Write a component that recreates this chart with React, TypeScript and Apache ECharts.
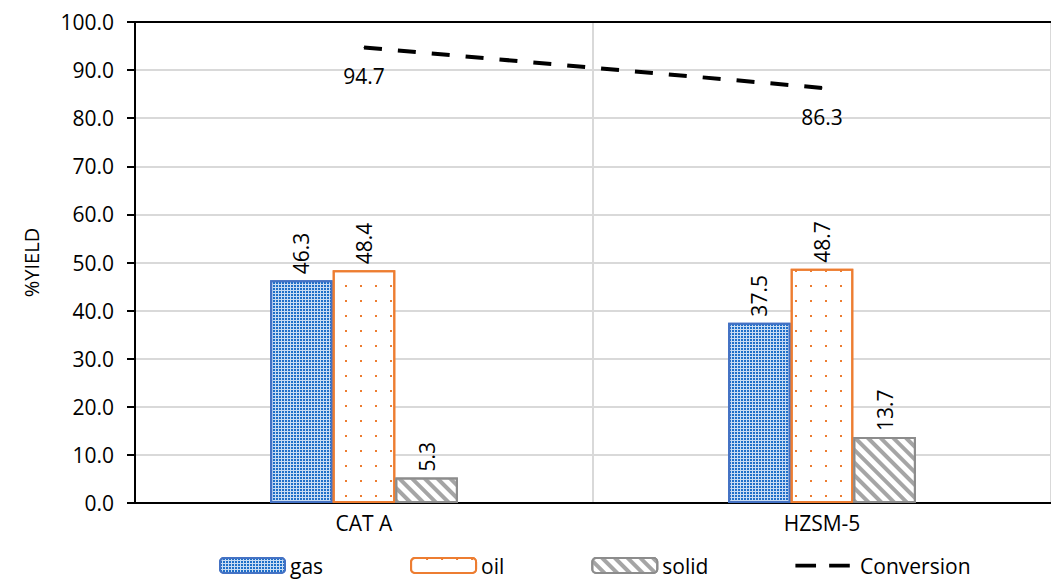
import React, { useEffect, useRef } from "react";
import * as echarts from "echarts";

const categories = ["CAT A", "HZSM-5"];
const gas = [46.3, 37.5];
const oil = [48.4, 48.7];
const solid = [5.3, 13.7];
const conversion = [94.7, 86.3];
const yTicks = { min: 0, max: 100, interval: 10 };

const FONT = "Open Sans";

export default function App() {
  const ref = useRef<HTMLDivElement>(null);
  useEffect(() => {
    const chart = echarts.init(ref.current!, null, { renderer: "svg" });
    const barLabel = {
      show: true,
      position: "top",
      rotate: 90,
      align: "left",
      verticalAlign: "middle",
      distance: 6,
      fontFamily: FONT,
      fontSize: 21,
      color: "#000",
      formatter: (p: any) => p.value.toFixed(1),
    };
    chart.setOption({
      animation: false,
      backgroundColor: "#fff",
      textStyle: { fontFamily: FONT },
      grid: { left: 135, top: 22, width: 928, height: 481, containLabel: false },
      legend: {
        bottom: 0,
        left: 214,
        itemWidth: 65,
        itemHeight: 15,
        itemGap: 87,
        textStyle: { fontFamily: FONT, fontSize: 21, color: "#000" },
        data: [
          "gas",
          "oil",
          "solid",
          {
            name: "Conversion",
            icon: "path://M0,0L0,0 M0,6h22v4h-22z M36,6h22v4h-22z M58,16L58,16",
          },
        ],
      },
      xAxis: [
        {
          type: "category",
          data: categories,
          axisLine: { lineStyle: { color: "#000", width: 2 } },
          axisTick: { show: false },
          axisLabel: { fontFamily: FONT, fontSize: 21, color: "#000", margin: 9 },
          splitLine: { show: true, lineStyle: { color: "#d9d9d9", width: 2 } },
        },
        {
          type: "category",
          data: categories,
          position: "top",
          axisLine: { lineStyle: { color: "#000", width: 2 } },
          axisTick: { show: false },
          axisLabel: { show: false },
          splitLine: { show: false },
        },
      ],
      yAxis: {
        type: "value",
        min: yTicks.min,
        max: yTicks.max,
        interval: yTicks.interval,
        name: "%YIELD",
        nameLocation: "middle",
        nameGap: 94,
        nameTextStyle: { fontFamily: FONT, fontSize: 20, color: "#000" },
        axisLine: { show: true, lineStyle: { color: "#000", width: 2 } },
        axisTick: { show: true, length: 8, lineStyle: { color: "#000", width: 2 } },
        axisLabel: {
          fontFamily: FONT,
          fontSize: 21,
          color: "#000",
          margin: 21,
          formatter: (v: number) => v.toFixed(1),
        },
        splitLine: { show: true, lineStyle: { color: "#d9d9d9", width: 2 } },
      },
      series: [
        {
          name: "gas",
          type: "bar",
          data: gas,
          barGap: "0%",
          barCategoryGap: "59%",
          itemStyle: {
            color: "#c9dcf3",
            borderColor: "#4472C4",
            borderWidth: 2,
            decal: {
              symbol: "rect",
              symbolSize: 1,
              color: "#1f6fc8",
              dashArrayX: [2, 1],
              dashArrayY: [2, 1],
            },
          },
          label: barLabel,
        },
        {
          name: "oil",
          type: "bar",
          data: oil,
          itemStyle: {
            color: "#ffffff",
            borderColor: "#ED7D31",
            borderWidth: 2,
            decal: {
              symbol: "rect",
              symbolSize: 1,
              color: "#ED7D31",
              dashArrayX: [2, 13],
              dashArrayY: [2, 13],
            },
          },
          label: barLabel,
        },
        {
          name: "solid",
          type: "bar",
          data: solid,
          itemStyle: {
            color: "#ffffff",
            borderColor: "#8c8c8c",
            borderWidth: 2,
            decal: {
              symbol: "rect",
              symbolSize: 1,
              color: "#a5a5a5",
              dashArrayX: [1, 0],
              dashArrayY: [4, 5],
              rotation: Math.PI / 4,
            },
          },
          label: barLabel,
        },
        {
          name: "Conversion",
          type: "line",
          data: conversion,
          symbol: "circle",
          symbolSize: 1,
          showSymbol: true,
          lineStyle: { color: "#000", width: 4, type: [18, 16] },
          itemStyle: { color: "#000" },
          label: {
            show: true,
            position: "bottom",
            distance: 18,
            fontFamily: FONT,
            fontSize: 21,
            color: "#000",
            opacity: 1,
            formatter: (p: any) => p.value.toFixed(1),
          },
        },
      ],
    });
    return () => chart.dispose();
  }, []);
  return (
    <div
      ref={ref}
      style={{ position: "fixed", left: 0, top: 0, width: 1051, height: 581 }}
    />
  );
}
